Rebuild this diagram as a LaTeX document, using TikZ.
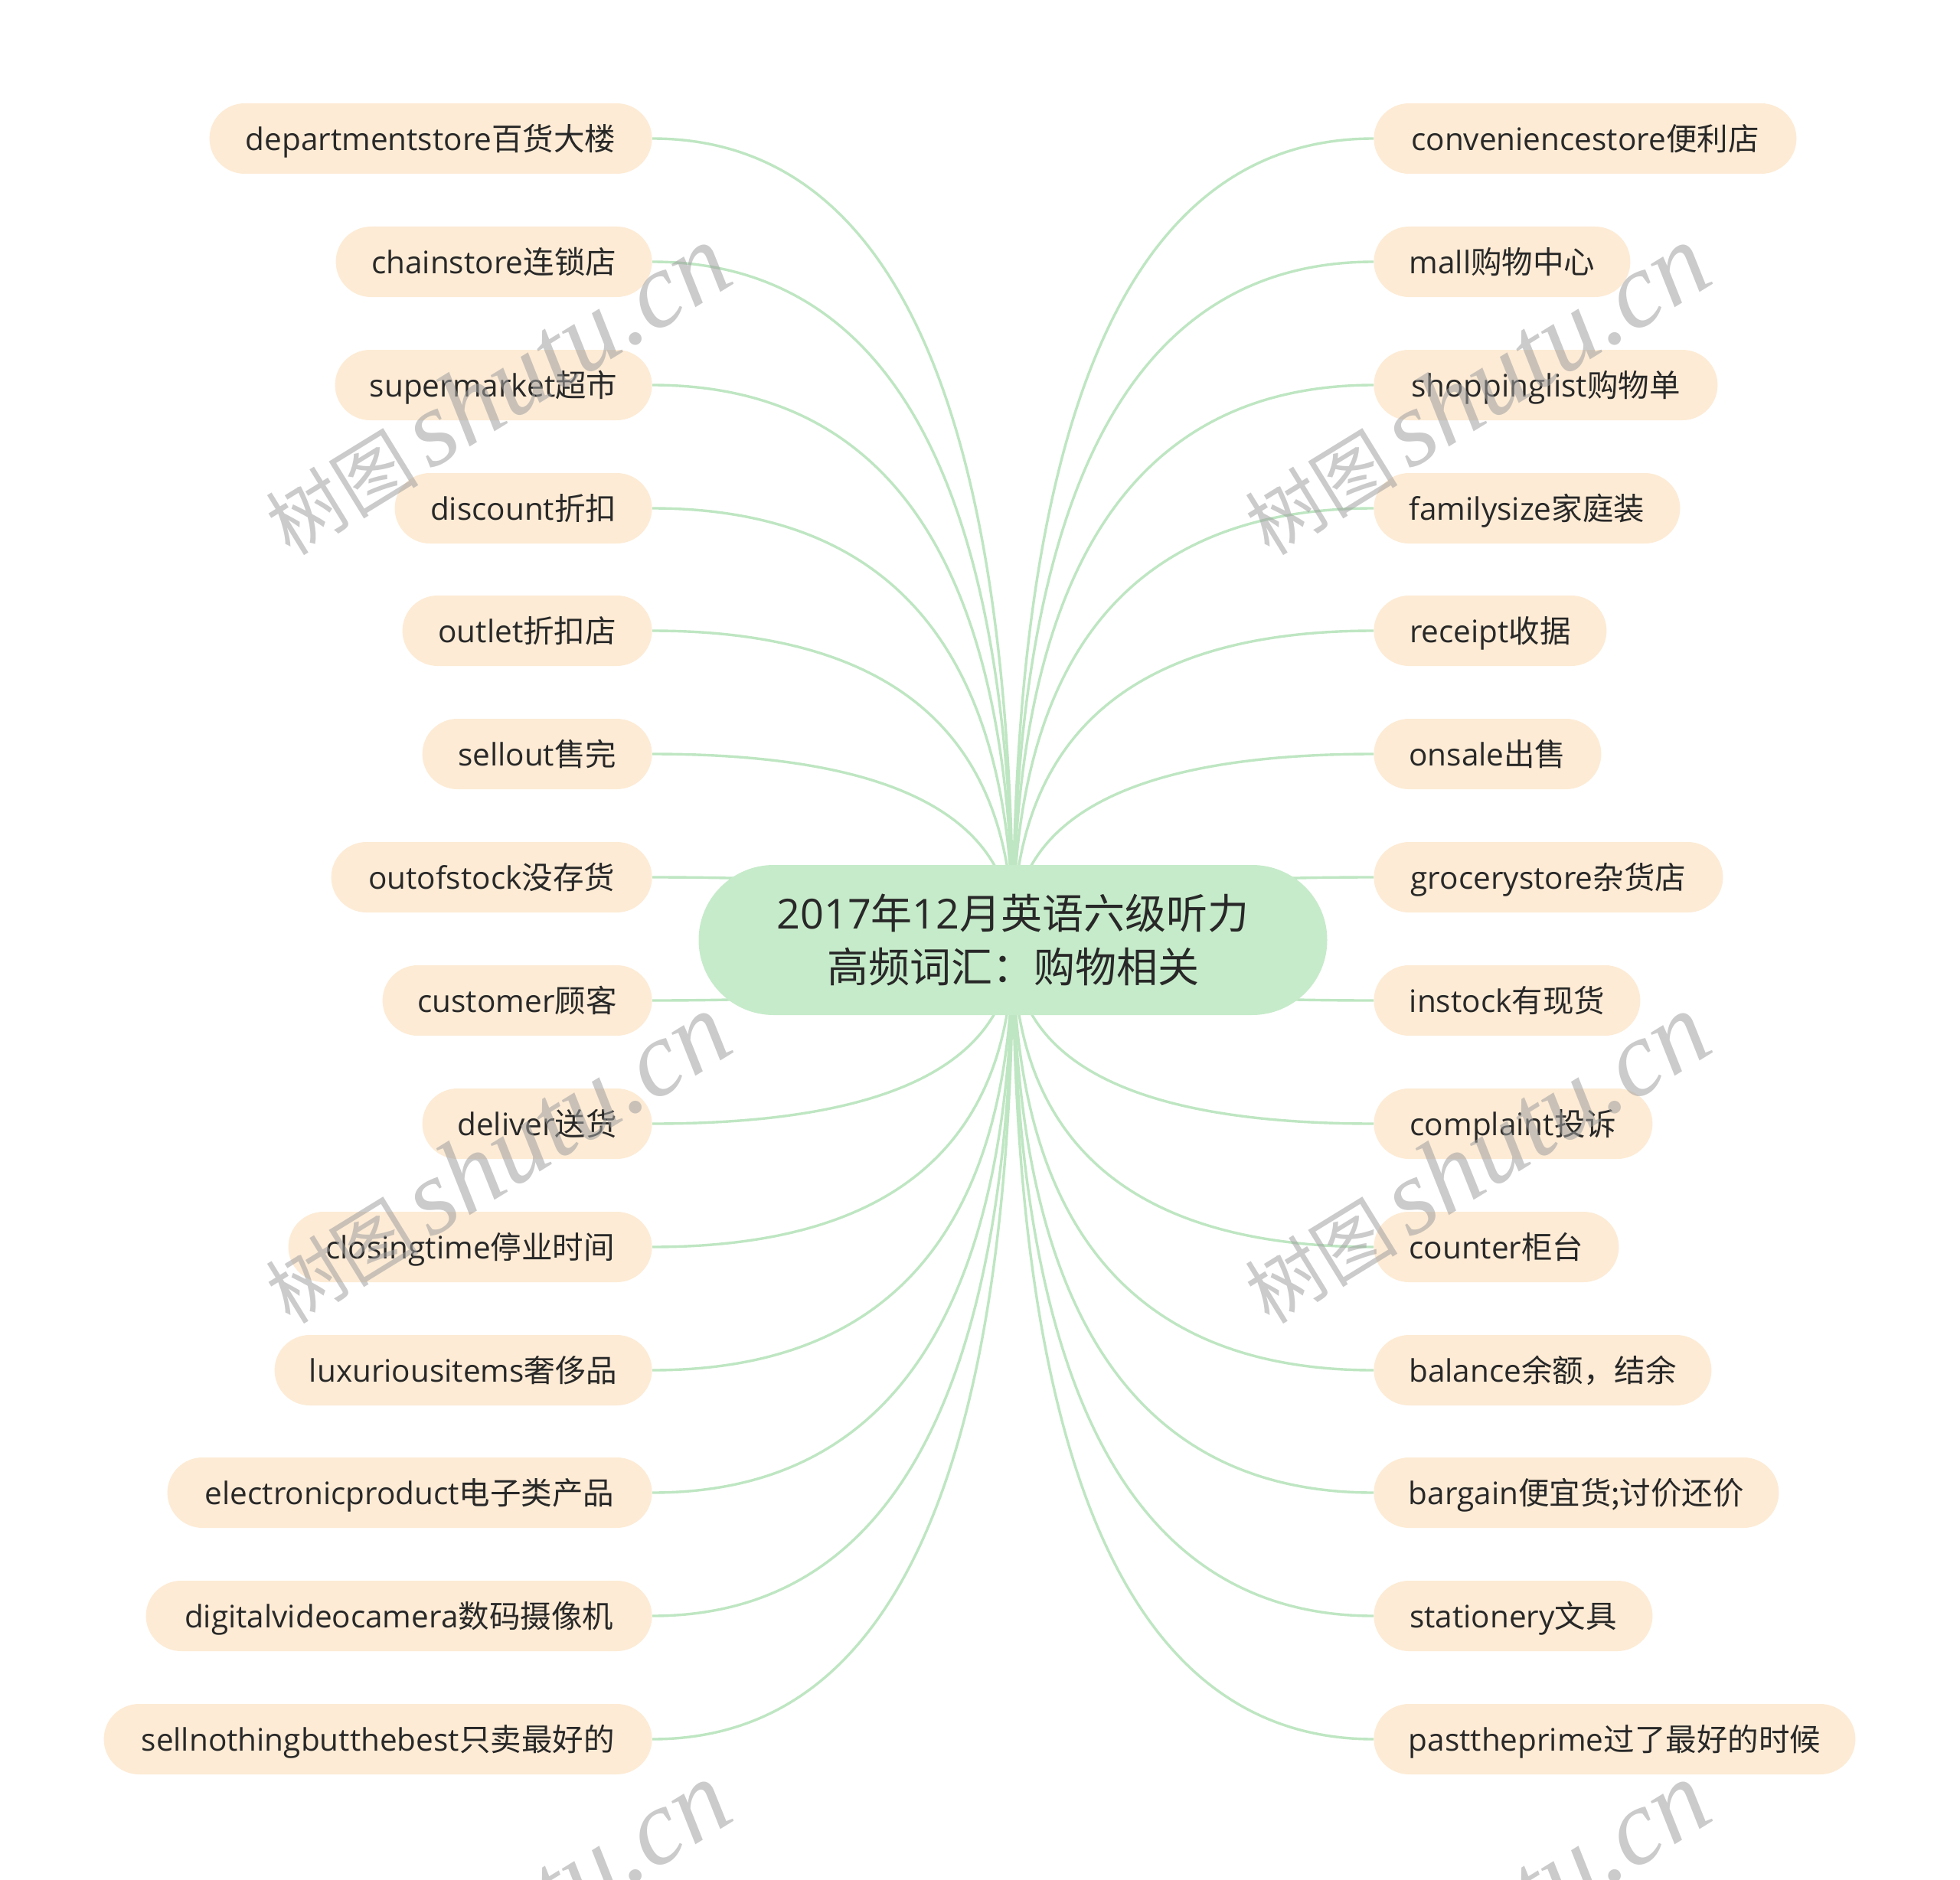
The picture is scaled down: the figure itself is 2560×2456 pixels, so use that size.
\documentclass[tikz,border=0pt]{standalone}
\usepackage{fontspec}
\setmainfont{Open Sans}
\newfontfamily\zhfont{Noto Sans CJK SC}
\newfontfamily\wmfont{Liberation Serif}
\newcommand\zh[1]{{\zhfont #1}}
\usetikzlibrary{calc}
\definecolor{leafc}{RGB}{253,235,213}
\definecolor{rootc}{RGB}{198,235,202}
\definecolor{linkc}{RGB}{190,230,194}
\definecolor{txtc}{RGB}{40,40,40}
\definecolor{wmc}{RGB}{160,160,160}
\pgfdeclarelayer{bg}\pgfdeclarelayer{fg}
\pgfsetlayers{bg,main,fg}
\newcommand\lnk[2]{%
  \coordinate (q) at (root.center |- #1.#2);
  \draw[link] (root.center) .. controls ($(root.center)!0.6667!(q)$) and ($(#1.#2)!0.6667!(q)$) .. (#1.#2);}
\tikzset{
  leafbox/.style={fill=leafc, rounded corners=23pt, minimum height=46pt, inner xsep=6pt, inner ysep=0pt,
    text=txtc, font=\fontsize{20.25}{24}\selectfont, text height=19.8pt, text depth=4.4pt},
  leafL/.style={leafbox, anchor=east},
  leafR/.style={leafbox, anchor=west},
  rootbox/.style={fill=rootc, rounded corners=49pt, minimum width=410.5pt, minimum height=98pt,
    align=center, text=txtc, font=\fontsize{27}{35}\selectfont},
  link/.style={draw=linkc, line width=1.7pt},
  wm/.style={rotate=31.6, text=wmc, text opacity=0.55, inner sep=0pt, anchor=center}
}
\begin{document}
\begin{tikzpicture}[x=0.5pt,y=-0.5pt]
\useasboundingbox (0,0) rectangle (2560,2456);
\node[rootbox] (root) at (1323,1228) {2017\zh{年}12\zh{月英语六级听力}\\\zh{高频词汇：购物相关}};
% left
\node[leafL, minimum width=289pt]   (L1)  at (852,181)  {departmentstore\zh{百货大楼}};
\node[leafL, minimum width=206.5pt] (L2)  at (852,342)  {chainstore\zh{连锁店}};
\node[leafL, minimum width=207pt]   (L3)  at (852,503)  {supermarket\zh{超市}};
\node[leafL, minimum width=168pt]   (L4)  at (852,664)  {discount\zh{折扣}};
\node[leafL, minimum width=163pt]   (L5)  at (852,824)  {outlet\zh{折扣店}};
\node[leafL, minimum width=150pt]   (L6)  at (852,985)  {sellout\zh{售完}};
\node[leafL, minimum width=209.5pt] (L7)  at (852,1146) {outofstock\zh{没存货}};
\node[leafL, minimum width=176pt]   (L8)  at (852,1307) {customer\zh{顾客}};
\node[leafL, minimum width=150pt]   (L9)  at (852,1468) {deliver\zh{送货}};
\node[leafL, minimum width=237.5pt] (L10) at (852,1629) {closingtime\zh{停业时间}};
\node[leafL, minimum width=246.5pt] (L11) at (852,1790) {luxuriousitems\zh{奢侈品}};
\node[leafL, minimum width=316.5pt] (L12) at (852,1950) {electronicproduct\zh{电子类产品}};
\node[leafL, minimum width=330.5pt] (L13) at (852,2111) {digitalvideocamera\zh{数码摄像机}};
\node[leafL, minimum width=358pt]   (L14) at (852,2272) {sellnothingbutthebest\zh{只卖最好的}};
% right
\node[leafR, minimum width=276pt]   (R1)  at (1794,181)  {conveniencestore\zh{便利店}};
\node[leafR, minimum width=167.5pt] (R2)  at (1794,342)  {mall\zh{购物中心}};
\node[leafR, minimum width=224.5pt] (R3)  at (1794,503)  {shoppinglist\zh{购物单}};
\node[leafR, minimum width=200pt]   (R4)  at (1794,664)  {familysize\zh{家庭装}};
\node[leafR, minimum width=152pt]   (R5)  at (1794,824)  {receipt\zh{收据}};
\node[leafR, minimum width=148.5pt] (R6)  at (1794,985)  {onsale\zh{出售}};
\node[leafR, minimum width=228pt]   (R7)  at (1794,1146) {grocerystore\zh{杂货店}};
\node[leafR, minimum width=174pt]   (R8)  at (1794,1307) {instock\zh{有现货}};
\node[leafR, minimum width=182pt]   (R9)  at (1794,1468) {complaint\zh{投诉}};
\node[leafR, minimum width=160pt]   (R10) at (1794,1629) {counter\zh{柜台}};
\node[leafR, minimum width=220.5pt] (R11) at (1794,1790) {balance\zh{余额，结余}};
\node[leafR, minimum width=264.5pt] (R12) at (1794,1950) {bargain\zh{便宜货;讨价还价}};
\node[leafR, minimum width=182pt]   (R13) at (1794,2111) {stationery\zh{文具}};
\node[leafR, minimum width=314.5pt] (R14) at (1794,2272) {pasttheprime\zh{过了最好的时候}};
\begin{pgfonlayer}{bg}
\foreach \i in {1,...,14} {\lnk{L\i}{east}\lnk{R\i}{west}}
\end{pgfonlayer}
\begin{pgfonlayer}{fg}
\foreach \p [count=\k] in {(648,510),(1927,510),(648,1514),(1927,1514),(648,2518),(1927,2518)}
  \node[wm] (wm\k) at \p {\zhfont\fontsize{50}{50}\selectfont 树图\hspace{8pt}{\wmfont\itshape\fontsize{70}{70}\selectfont shutu.cn}};
\end{pgfonlayer}
\end{tikzpicture}
\end{document}
